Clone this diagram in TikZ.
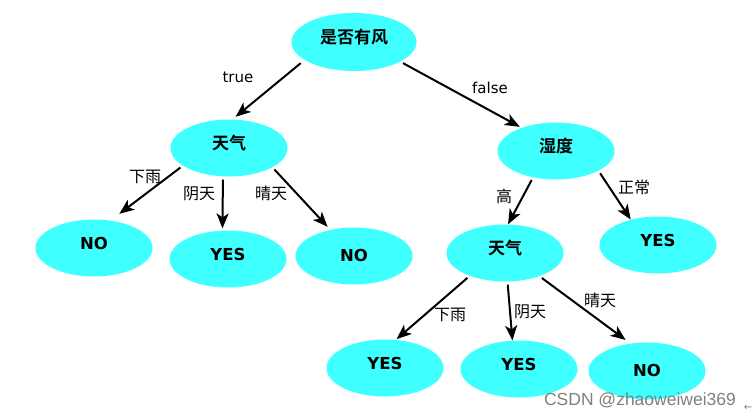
\documentclass[tikz,border=0pt]{standalone}
\usepackage{fontspec}
\setmainfont{DejaVu Sans}
\newfontfamily\cjk{Noto Sans CJK SC}[BoldFont={Noto Sans CJK SC Bold}]
\newfontfamily\wmfont{Liberation Sans}
\usetikzlibrary{shapes.geometric,arrows.meta}
\definecolor{leafcyan}{RGB}{64,255,255}
\tikzset{
  tnode/.style={ellipse,fill=leafcyan,minimum width=117pt,minimum height=57pt,inner sep=0pt,
    text height=12pt,text depth=9pt,font=\cjk\bfseries\fontsize{17}{17}\selectfont},
  lnode/.style={tnode,font=\bfseries\fontsize{16.5}{16.5}\selectfont},
  elab/.style={inner sep=0pt,font=\fontsize{15}{15}\selectfont},
  clab/.style={inner sep=0pt,font=\cjk\fontsize{16}{16}\selectfont},
  arr/.style={line width=2pt,shorten <=3pt,-{Stealth[length=15pt,width=12pt,inset=4pt]}}
}
\begin{document}
\begin{tikzpicture}[x=1pt,y=-1pt]
\fill[white] (0,0) rectangle (754,416);
\useasboundingbox (0,0) rectangle (754,416);
\node[tnode,minimum width=125pt,minimum height=58pt] (root) at (354,42) {是否有风};
\node[tnode] (wthL) at (229,148) {天气};
\node[tnode] (hum) at (556,151) {湿度};
\node[tnode] (wthR) at (505,253) {天气};
\node[lnode] (noL) at (94,248) {NO};
\node[lnode] (yesL) at (228,259) {YES};
\node[lnode,text depth=1pt] (noM) at (354,256) {NO};
\node[lnode] (yesH) at (658,245) {YES};
\node[lnode] (yesR1) at (385,368) {YES};
\node[lnode] (yesR2) at (519,369) {YES};
\node[lnode,text depth=1pt] (noR) at (647,371) {NO};
\draw[arr,shorten <=5pt,shorten >=4pt] (root.200) -- (wthL.83);
\draw[arr,shorten >=2pt] (root.337) -- (hum.146);
\draw[arr,shorten >=11pt] (wthL.201) -- (noL.59);
\draw[arr,shorten >=2pt] (wthL.258) -- (yesL.101);
\draw[arr,shorten >=4pt] (wthL.336) -- (noM.132);
\draw[arr] (hum.229) -- (wthR.84);
\draw[arr] (hum.335) -- (yesH.137);
\draw[arr,shorten >=1pt] (wthR.213) -- (yesR1.69);
\draw[arr] (wthR.275) -- (yesR2.103);
\draw[arr,shorten >=6pt] (wthR.326) -- (noR.121);
\node[elab] (lTrue) at (238,77) {true};
\node[elab] (lFalse) at (490,88) {false};
\node[clab] (lRainL) at (145,177) {下雨};
\node[clab] (lCloudL) at (199,194) {阴天};
\node[clab] (lSunL) at (271,193) {晴天};
\node[clab] (lHigh) at (504,196) {高};
\node[clab] (lNorm) at (634,187) {正常};
\node[clab] (lRainR) at (450,315) {下雨};
\node[clab] (lCloudR) at (530,312) {阴天};
\node[clab] (lSunR) at (600,300) {晴天};
\node[text=gray,font=\wmfont\fontsize{17.5}{17.5}\selectfont] (wmark) at (640,400) {CSDN @zhaoweiwei369};
\node[text=gray,inner sep=0pt,font=\fontsize{10}{10}\selectfont] (wmArrow) at (748,408) {←};
\end{tikzpicture}
\end{document}
